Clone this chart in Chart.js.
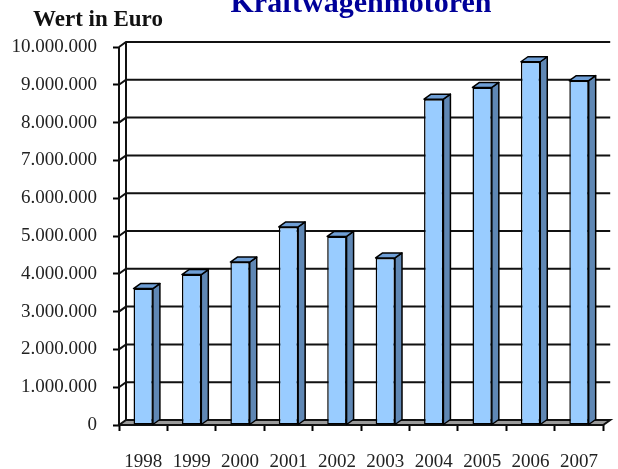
<!DOCTYPE html>
<html>
<head>
<meta charset="utf-8">
<script src="https://cdn.jsdelivr.net/npm/chart.js@4.4.0/dist/chart.umd.min.js"></script>
<style>
  html, body { margin: 0; padding: 0; background: #fff; }
  #wrap { width: 618px; height: 469px; }
</style>
</head>
<body>
<div id="wrap"><canvas id="chart" width="618" height="469"></canvas></div>
<script>
const years = ["1998", "1999", "2000", "2001", "2002", "2003", "2004", "2005", "2006", "2007"];
const values = [3610000, 3980000, 4310000, 5240000, 4990000, 4420000, 8620000, 8930000, 9610000, 9110000];
const yMax = 10000000;
const yStep = 1000000;
const chartTitle = "Kraftwagenmotoren";
const axisTitle = "Wert in Euro";

const DX = 7, DY = 5; // depth offset of the 3d look
const SERIF = '"Liberation Serif", "DejaVu Serif", serif';

function fmt(v) {
  return String(v).replace(/\B(?=(\d{3})+(?!\d))/g, ".");
}

/* === walls, floor, gridlines (behind bars) + bar sides/tops === */
const depth = {
  id: "depth",
  beforeDatasetsDraw(chart) {
    const ctx = chart.ctx;
    const { left, right, top, bottom } = chart.chartArea;
    const ys = chart.scales.y;
    ctx.save();
    ctx.lineWidth = 2;
    ctx.strokeStyle = "#111";
    ctx.lineJoin = "miter";

    // floor
    ctx.beginPath();
    ctx.moveTo(left, bottom);
    ctx.lineTo(left + DX, bottom - DY);
    ctx.lineTo(right + DX, bottom - DY);
    ctx.lineTo(right, bottom);
    ctx.closePath();
    ctx.fillStyle = "#9a9a9a";
    ctx.fill();
    ctx.stroke();

    // grid on back wall
    for (let v = yStep; v <= yMax; v += yStep) {
      const y = ys.getPixelForValue(v);
      ctx.beginPath();
      ctx.moveTo(left, y);
      ctx.lineTo(left + DX, y - DY);
      ctx.lineTo(right + DX, y - DY);
      ctx.stroke();
    }

    // left wall edges
    ctx.beginPath();
    ctx.moveTo(left, bottom);
    ctx.lineTo(left, top);
    ctx.moveTo(left + DX, bottom - DY);
    ctx.lineTo(left + DX, top - DY);
    ctx.stroke();
    ctx.restore();
  },
  afterDatasetsDraw(chart) {
    const ctx = chart.ctx;
    const meta = chart.getDatasetMeta(0);
    ctx.save();
    ctx.lineWidth = 1.5;
    ctx.strokeStyle = "#000";
    ctx.lineJoin = "round";
    meta.data.forEach((bar) => {
      const { x, y, base, width } = bar.getProps(["x", "y", "base", "width"], true);
      const l = x - width / 2, r = x + width / 2;
      // side
      ctx.beginPath();
      ctx.moveTo(r, y);
      ctx.lineTo(r + DX, y - DY);
      ctx.lineTo(r + DX, base - DY);
      ctx.lineTo(r, base);
      ctx.closePath();
      ctx.fillStyle = "#5f87b4";
      ctx.fill();
      ctx.stroke();
      // top
      ctx.beginPath();
      ctx.moveTo(l, y);
      ctx.lineTo(l + DX, y - DY);
      ctx.lineTo(r + DX, y - DY);
      ctx.lineTo(r, y);
      ctx.closePath();
      ctx.fillStyle = "#6f9fd6";
      ctx.fill();
      ctx.stroke();
    });
    ctx.restore();
  },
  afterDraw(chart) {
    const ctx = chart.ctx;
    ctx.save();
    ctx.textBaseline = "alphabetic";
    ctx.textAlign = "center";
    ctx.fillStyle = "#000099";
    ctx.font = "bold 30px " + SERIF;
    ctx.fillText(chartTitle, 361, 12);
    ctx.textAlign = "left";
    ctx.fillStyle = "#111";
    ctx.font = "bold 23px " + SERIF;
    ctx.fillText(axisTitle, 33, 26);
    ctx.restore();
  },
};

new Chart(document.getElementById("chart"), {
  type: "bar",
  data: {
    labels: years,
    datasets: [{
      data: values,
      backgroundColor: "#99ccff",
      borderColor: "#000",
      borderWidth: 1.5,
      borderSkipped: false,
      categoryPercentage: 1,
      barPercentage: 0.4,
    }],
  },
  options: {
    responsive: false,
    animation: false,
    devicePixelRatio: 1,
    layout: { padding: { top: 47, left: 0, right: 0, bottom: 0 } },
    plugins: { legend: { display: false }, tooltip: { enabled: false }, title: { display: false } },
    scales: {
      x: {
        grid: { offset: true, drawOnChartArea: false, drawTicks: true, tickLength: 6, tickColor: "#000", tickWidth: 2 },
        border: { display: false },
        ticks: { color: "#222", font: { family: SERIF, size: 19 }, padding: 20, maxRotation: 0, autoSkip: false },
        afterFit(scale) { scale.height = 44; },
      },
      y: {
        min: 0,
        max: yMax,
        grid: { drawOnChartArea: false, drawTicks: true, tickLength: 6, tickColor: "#000", tickWidth: 2 },
        border: { display: false },
        ticks: { stepSize: yStep, color: "#222", font: { family: SERIF, size: 19 }, padding: 16, callback: (v) => fmt(v) },
        afterFit(scale) { scale.width = 119; },
      },
    },
  },
  plugins: [depth],
});
</script>
</body>
</html>
